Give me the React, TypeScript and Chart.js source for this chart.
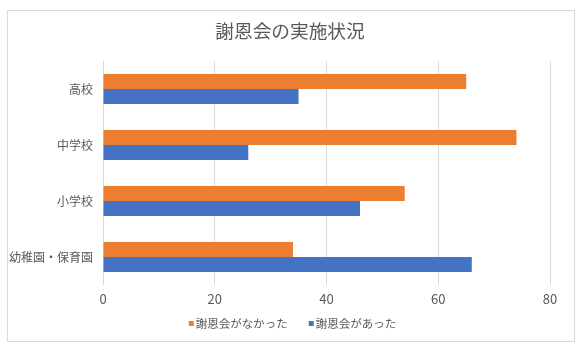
import React, { useEffect, useRef } from "react";
import { Chart, registerables } from "chart.js";

Chart.register(...registerables);

const categories = ["高校", "中学校", "小学校", "幼稚園・保育園"];
const seriesNames = ["謝恩会がなかった", "謝恩会があった"];
const noCeremony = [65, 74, 54, 34];
const hadCeremony = [35, 26, 46, 66];
const xTicks = [0, 20, 40, 60, 80];

const FONT = '"Noto Sans CJK JP", "Noto Sans", sans-serif';
const TEXT = "#595959";
const GRID = "#D9D9D9";

const framePlugin = {
  id: "frame",
  beforeDraw(chart: any) {
    const ctx = chart.ctx;
    ctx.save();
    ctx.fillStyle = "#ffffff";
    ctx.fillRect(0, 0, chart.width, chart.height);
    ctx.strokeStyle = GRID;
    ctx.lineWidth = 1;
    ctx.strokeRect(7.5, 10.5, 567, 331);
    ctx.restore();
  },
};

const legendPlugin = {
  id: "customLegend",
  afterDraw(chart: any) {
    const ctx = chart.ctx;
    const box = 5;
    const gap = 2;
    const itemGap = 21;
    const yc = 323.5;
    ctx.save();
    ctx.font = `11.5px ${FONT}`;
    const items = chart.data.datasets.map((d: any) => ({
      label: d.label,
      color: d.backgroundColor,
      w: ctx.measureText(d.label).width,
    }));
    const total =
      items.reduce((s: number, it: any) => s + box + gap + it.w, 0) +
      itemGap * (items.length - 1);
    let x = chart.width / 2 - total / 2;
    ctx.textBaseline = "middle";
    ctx.textAlign = "left";
    for (const it of items) {
      ctx.fillStyle = it.color;
      ctx.fillRect(x, yc - box / 2, box, box);
      x += box + gap;
      ctx.fillStyle = TEXT;
      ctx.fillText(it.label, x, yc);
      x += it.w + itemGap;
    }
    ctx.restore();
  },
};

export default function App() {
  const ref = useRef<HTMLCanvasElement>(null);
  useEffect(() => {
    if (!ref.current) return;
    const chart = new Chart(ref.current, {
      type: "bar",
      data: {
        labels: categories,
        datasets: [
          {
            label: seriesNames[0],
            data: noCeremony,
            backgroundColor: "#ED7D31",
            borderWidth: 0,
            categoryPercentage: 0.536,
            barPercentage: 1,
          },
          {
            label: seriesNames[1],
            data: hadCeremony,
            backgroundColor: "#4472C4",
            borderWidth: 0,
            categoryPercentage: 0.536,
            barPercentage: 1,
          },
        ],
      },
      options: {
        indexAxis: "y",
        responsive: false,
        animation: false,
        layout: { padding: { left: 7, right: 12, top: 10, bottom: 45 } },
        plugins: {
          title: {
            display: true,
            text: "謝恩会の実施状況",
            color: TEXT,
            font: { family: FONT, size: 18.7, weight: "normal" },
            padding: { top: 10, bottom: 18.6 },
          },
          legend: { display: false },
          tooltip: { enabled: false },
        },
        scales: {
          x: {
            min: xTicks[0],
            max: xTicks[xTicks.length - 1],
            afterBuildTicks(scale: any) {
              scale.ticks = xTicks.map((v) => ({ value: v }));
            },
            afterFit(scale: any) {
              scale.height = 24;
              scale.paddingRight = 35;
            },
            grid: { color: GRID, drawTicks: false },
            border: { display: false },
            ticks: {
              color: TEXT,
              font: { family: FONT, size: 13 },
              padding: 6,
            },
          },
          y: {
            afterFit(scale: any) {
              scale.width = 96;
            },
            grid: { display: false, drawTicks: false },
            border: { display: false },
            ticks: {
              color: TEXT,
              font: { family: FONT, size: 12 },
              padding: 10,
            },
          },
        },
      },
      plugins: [framePlugin, legendPlugin],
    } as any);
    return () => chart.destroy();
  }, []);
  return (
    <div style={{ position: "absolute", left: 0, top: 0, width: 585, height: 354 }}>
      <canvas ref={ref} width={585} height={354} style={{ width: 585, height: 354, display: "block" }} />
    </div>
  );
}
